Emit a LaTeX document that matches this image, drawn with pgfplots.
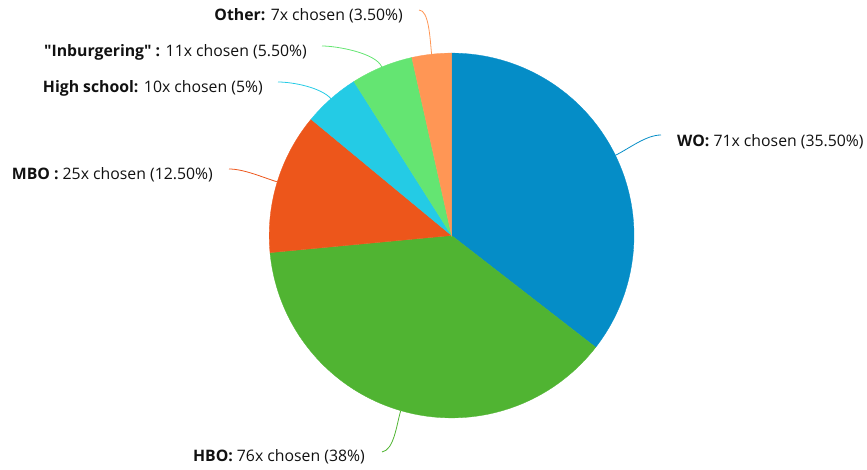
\documentclass[border=0pt]{standalone}
\usepackage{pgfplots}
\pgfplotsset{compat=1.18}
\usepackage{pgfplotstable}
\usepackage{fontspec}
\setmainfont{Open Sans}[Ligatures=TeXOff]

\definecolor{cWO}{HTML}{058DC7}
\definecolor{cHBO}{HTML}{50B432}
\definecolor{cMBO}{HTML}{ED561B}
\definecolor{cHS}{HTML}{24CBE5}
\definecolor{cIB}{HTML}{64E572}
\definecolor{cOT}{HTML}{FF9655}
\definecolor{txt}{HTML}{111111}

\pgfplotstableread{
label value
WO 71
HBO 76
MBO 25
HighSchool 10
Inburgering 11
Other 7
}\piedata

\begin{document}
\begin{tikzpicture}
\pgfplotstablegetelem{0}{value}\of\piedata \pgfmathsetmacro\vA{\pgfplotsretval}
\pgfplotstablegetelem{1}{value}\of\piedata \pgfmathsetmacro\vB{\pgfplotsretval}
\pgfplotstablegetelem{2}{value}\of\piedata \pgfmathsetmacro\vC{\pgfplotsretval}
\pgfplotstablegetelem{3}{value}\of\piedata \pgfmathsetmacro\vD{\pgfplotsretval}
\pgfplotstablegetelem{4}{value}\of\piedata \pgfmathsetmacro\vE{\pgfplotsretval}
\pgfplotstablegetelem{5}{value}\of\piedata \pgfmathsetmacro\vF{\pgfplotsretval}
\pgfmathsetmacro\tot{\vA+\vB+\vC+\vD+\vE+\vF}
\pgfmathsetmacro\k{360/\tot}
\pgfmathsetmacro\aA{90-\vA*\k}
\pgfmathsetmacro\aB{\aA-\vB*\k}
\pgfmathsetmacro\aC{\aB-\vC*\k}
\pgfmathsetmacro\aD{\aC-\vD*\k}
\pgfmathsetmacro\aE{\aD-\vE*\k}
\pgfmathsetmacro\aF{\aE-\vF*\k}
\def\cx{451.6}\def\cy{235.5}\def\R{182.4}
\begin{axis}[
  width=867pt, height=470pt, scale only axis,
  xmin=0, xmax=867, ymin=0, ymax=470, y dir=reverse,
  hide axis, clip=false,
]
\addplot[fill=cWO, draw=cWO, line width=0.3pt, domain=\aA:90, samples=90, variable=\t]
  ({\cx+\R*cos(\t)}, {\cy-\R*sin(\t)}) -- (axis cs:\cx,\cy) -- cycle;
\addplot[fill=cHBO, draw=cHBO, line width=0.3pt, domain=\aB:\aA, samples=90, variable=\t]
  ({\cx+\R*cos(\t)}, {\cy-\R*sin(\t)}) -- (axis cs:\cx,\cy) -- cycle;
\addplot[fill=cMBO, draw=cMBO, line width=0.3pt, domain=\aC:\aB, samples=40, variable=\t]
  ({\cx+\R*cos(\t)}, {\cy-\R*sin(\t)}) -- (axis cs:\cx,\cy) -- cycle;
\addplot[fill=cHS, draw=cHS, line width=0.3pt, domain=\aD:\aC, samples=20, variable=\t]
  ({\cx+\R*cos(\t)}, {\cy-\R*sin(\t)}) -- (axis cs:\cx,\cy) -- cycle;
\addplot[fill=cIB, draw=cIB, line width=0.3pt, domain=\aE:\aD, samples=20, variable=\t]
  ({\cx+\R*cos(\t)}, {\cy-\R*sin(\t)}) -- (axis cs:\cx,\cy) -- cycle;
\addplot[fill=cOT, draw=cOT, line width=0.3pt, domain=\aF:\aE, samples=15, variable=\t]
  ({\cx+\R*cos(\t)}, {\cy-\R*sin(\t)}) -- (axis cs:\cx,\cy) -- cycle;

% connectors
\draw[cWO, line width=0.8pt] (axis cs:615.4,155.3) .. controls (axis cs:628.9,148.7) and (axis cs:646,135) .. (axis cs:661,135);
\draw[cHBO, line width=0.8pt] (axis cs:400.7,410.7) .. controls (axis cs:396.5,425) and (axis cs:394,450) .. (axis cs:382,452);
\draw[cMBO, line width=0.8pt] (axis cs:277.3,181.9) .. controls (axis cs:263,177.5) and (axis cs:244,169) .. (axis cs:229,169);
\draw[cHS, line width=0.8pt] (axis cs:331.0,98.7) .. controls (axis cs:321,87.5) and (axis cs:293,82) .. (axis cs:278,82);
\draw[cIB, line width=0.8pt] (axis cs:381.8,67.0) .. controls (axis cs:376,53) and (axis cs:337,46) .. (axis cs:322,46);
\draw[cOT, line width=0.8pt] (axis cs:431.6,54.2) .. controls (axis cs:430,39) and (axis cs:429,10) .. (axis cs:419,10);

% labels
\begin{scope}[every node/.style={inner sep=0pt, text=txt, font=\fontsize{15.8}{18}\selectfont}]
\node[anchor=base west] at (axis cs:677,146.6) {\textbf{WO:} 71x chosen (35.50\%)};
\node[anchor=base east] at (axis cs:365,461.7) {\textbf{HBO:} 76x chosen (38\%)};
\node[anchor=base east] at (axis cs:213,179.3) {\textbf{MBO :} 25x chosen (12.50\%)};
\node[anchor=base east] at (axis cs:263,92.7) {\textbf{High school:} 10x chosen (5\%)};
\node[anchor=base east] at (axis cs:307,56.7) {\textbf{"Inburgering" :} 11x chosen (5.50\%)};
\node[anchor=base east] at (axis cs:403,20.7) {\textbf{Other:} 7x chosen (3.50\%)};
\end{scope}
\coordinate (ll) at (axis cs:0,470);
\coordinate (ur) at (axis cs:867,0);
\end{axis}
\pgfresetboundingbox
\path[use as bounding box] (ll) rectangle (ur);
\end{tikzpicture}
\end{document}
